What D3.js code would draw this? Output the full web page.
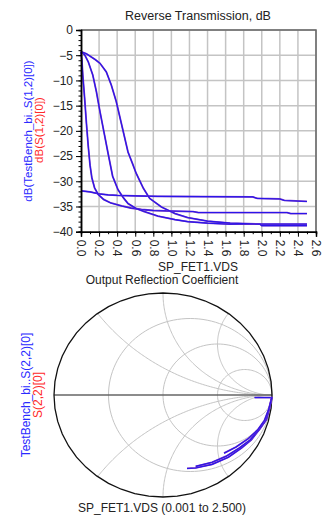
<!DOCTYPE html>
<html>
<head>
<meta charset="utf-8">
<script src="https://cdn.jsdelivr.net/npm/d3@7"></script>
<style>
  body { margin: 0; background: #fff; }
  svg { display: block; font-family: "Liberation Sans", Arial, sans-serif; }
</style>
</head>
<body>
<svg id="chart" width="323" height="516"></svg>
<script>
// Reverse transmission traces: [VDS, dB]
const s12TraceA = [[0, -4.3], [0.01, -6], [0.02, -9], [0.04, -13.5], [0.06, -18.5], [0.08, -23], [0.1, -26.8],
    [0.12, -29.3], [0.15, -31.3], [0.19, -32.6], [0.25, -33.6], [0.33, -34.3], [0.45, -34.9], [0.55, -35.3],
    [0.67, -35.6], [0.8, -35.8], [1.0, -35.9], [1.24, -36.0], [1.3, -36.2], [2.28, -36.2], [2.32, -36.4], [2.5, -36.4]];
const s12TraceB = [[0, -4.3], [0.04, -4.9], [0.08, -6.3], [0.13, -8.9], [0.17, -12.2], [0.21, -16.2], [0.26, -20.8],
    [0.3, -24.5], [0.35, -29], [0.41, -31.7], [0.47, -33.3], [0.52, -34.4], [0.61, -35.4], [0.7, -36.0],
    [0.85, -36.9], [1.04, -37.6], [1.18, -38.0], [1.4, -38.3], [1.65, -38.5], [2.0, -38.5], [2.5, -38.5]];
const s12TraceC = [[0, -4.3], [0.06, -4.7], [0.11, -5.3], [0.16, -5.9], [0.21, -6.6], [0.28, -8.3], [0.335, -10.9],
    [0.39, -14.2], [0.45, -18.8], [0.52, -24.2], [0.57, -26.5], [0.61, -28.4], [0.69, -31.4], [0.76, -33.4],
    [0.89, -35.1], [1.04, -36.4], [1.18, -37.2], [1.4, -37.9], [1.65, -38.3], [1.98, -38.5], [2.0, -38.8], [2.5, -38.8]];
const s12TraceD = [[0, -31.9], [0.1, -32.1], [0.2, -32.5], [0.3, -32.7], [0.4, -32.8], [0.6, -32.9], [0.85, -33.0],
    [1.9, -33.1], [1.95, -33.4], [2.2, -33.5], [2.25, -33.8], [2.5, -34.0]];

// Output reflection traces: [re, im]
const s22TraceA = [[0.999, -0.02], [0.98, -0.12], [0.95, -0.24], [0.89, -0.33], [0.81, -0.44], [0.72, -0.52],
    [0.6, -0.61], [0.45, -0.68], [0.3, -0.715], [0.22, -0.72]];
const s22TraceB = [[0.999, -0.02], [0.975, -0.13], [0.94, -0.25], [0.88, -0.34], [0.8, -0.44], [0.7, -0.52],
    [0.58, -0.6], [0.45, -0.66], [0.3, -0.7]];
const s22TraceC = [[0.999, -0.02], [0.97, -0.14], [0.93, -0.25], [0.87, -0.34], [0.78, -0.43], [0.67, -0.51],
    [0.56, -0.57]];
const s22TraceD = [[0.84, -0.025], [0.92, -0.025], [0.999, -0.025]];

const xTicks = d3.range(0, 2.61, 0.2);
const yTicks = d3.range(0, -40.1, -5);
const resistanceCircles = [1 / 3, 1, 3];
const reactanceArcs = [0.5, 1, 2, -0.5, -1, -2];

const BLUE = '#2a14ea';
const PURPLE = '#7a3cc6';
const GRID = '#c4c4c4';

const svg = d3.select('#chart');

function drawTitle(text, x, y, size = 12) {
    svg.append('text')
        .attr('x', x)
        .attr('y', y)
        .attr('text-anchor', 'middle')
        .attr('font-size', size)
        .attr('fill', '#222')
        .text(text);
}

function drawSideLabel(text, x, y, color, size) {
    svg.append('text')
        .attr('transform', `translate(${x},${y}) rotate(-90)`)
        .attr('text-anchor', 'middle')
        .attr('dominant-baseline', 'middle')
        .attr('font-size', size)
        .attr('fill', color)
        .text(text);
}

function drawTrace(layer, data, line) {
    // red trace lies under the blue one, mixing into purple
    layer.append('path')
        .datum(data)
        .attr('d', line)
        .attr('fill', 'none')
        .attr('stroke', PURPLE)
        .attr('stroke-width', 1.8);
    layer.append('path')
        .datum(data)
        .attr('d', line)
        .attr('fill', 'none')
        .attr('stroke', BLUE)
        .attr('stroke-width', 1.1);
}

// ---------- Reverse Transmission ----------
const x = d3.scaleLinear().domain([0, 2.6]).range([81, 316]);
const y = d3.scaleLinear().domain([0, -40]).range([30, 231.7]);

drawTitle('Reverse Transmission, dB', 198, 20, 12.5);

const grid = svg.append('g');
grid.selectAll('line.v')
    .data(xTicks.slice(1))
    .join('line')
    .attr('x1', d => x(d)).attr('x2', d => x(d))
    .attr('y1', y(0)).attr('y2', y(-40))
    .attr('stroke', GRID).attr('stroke-width', 1.5);
grid.selectAll('line.h')
    .data(yTicks.slice(0, -1))
    .join('line')
    .attr('x1', x(0)).attr('x2', x(2.6))
    .attr('y1', d => y(d)).attr('y2', d => y(d))
    .attr('stroke', GRID).attr('stroke-width', 1.5);

// top and right frame
svg.append('path')
    .attr('d', `M${x(0)},${y(0)}H${x(2.6)}V${y(-40)}`)
    .attr('fill', 'none')
    .attr('stroke', '#666')
    .attr('stroke-width', 1.5);

const lineDb = d3.line().x(d => x(d[0])).y(d => y(d[1]));
const traces = svg.append('g');
[s12TraceD, s12TraceA, s12TraceB, s12TraceC].forEach(t => drawTrace(traces, t, lineDb));

// axes
const yAxis = d3.axisLeft(y).tickValues(yTicks).tickSize(5).tickPadding(3).tickFormat(d3.format('d'));
const yMinor = d3.axisLeft(y).tickValues(d3.range(0, -40.1, -1)).tickSize(2.5).tickFormat('');
const xAxis = d3.axisBottom(x).tickValues(xTicks).tickSize(5).tickFormat(d3.format('.1f'));
const xMinor = d3.axisBottom(x).tickValues(d3.range(0, 2.61, 0.1)).tickSize(2.5).tickFormat('');

function styleAxis(g) {
    g.select('.domain').attr('stroke', '#000').attr('stroke-width', 1.5);
    g.selectAll('.tick line').attr('stroke', '#000');
    g.selectAll('.tick text').attr('font-size', 12).attr('font-family', '"Liberation Sans", Arial, sans-serif').attr('fill', '#222');
}

svg.append('g').attr('transform', `translate(${x(0)},0)`).call(yMinor).call(styleAxis);
svg.append('g').attr('transform', `translate(${x(0)},0)`).call(yAxis).call(styleAxis);
svg.append('g').attr('transform', `translate(0,${y(-40)})`).call(xMinor).call(styleAxis);
const xg = svg.append('g').attr('transform', `translate(0,${y(-40)})`).call(xAxis).call(styleAxis);
xg.selectAll('.tick text')
    .attr('transform', 'rotate(90)')
    .attr('x', 8)
    .attr('y', 0)
    .attr('dy', '0.35em')
    .attr('text-anchor', 'start');

drawTitle('SP_FET1.VDS', 198, 271);
drawSideLabel('dB(TestBench_bi..S(1,2)[0])', 29, 131, '#2a2aff', 11.5);
drawSideLabel('dB(S(1,2)[0])', 40, 130, '#ff2a2a', 11.5);

// ---------- Output Reflection Coefficient ----------
const gx = d3.scaleLinear().domain([-1, 1]).range([54, 272]);
const gy = d3.scaleLinear().domain([1, -1]).range([293, 497]);
const lineG = d3.line().x(d => gx(d[0])).y(d => gy(d[1]));

drawTitle('Output Reflection Coefficient', 162, 284);

const smith = svg.append('g');

function circlePoints(cx, cy, r, a0, a1, n) {
    return d3.range(n + 1).map(i => {
        const a = a0 + (a1 - a0) * i / n;
        return [cx + r * Math.cos(a), cy + r * Math.sin(a)];
    });
}

resistanceCircles.forEach(r => {
    const pts = circlePoints(r / (r + 1), 0, 1 / (r + 1), 0, 2 * Math.PI, 120);
    smith.append('path').datum(pts).attr('d', lineG)
        .attr('fill', 'none').attr('stroke', GRID).attr('stroke-width', 1);
});

reactanceArcs.forEach(xv => {
    const ax = Math.abs(xv);
    const ex = (ax * ax - 1) / (ax * ax + 1);
    const ey = 2 * ax / (ax * ax + 1);
    let a0 = Math.atan2(ey - 1 / ax, ex - 1);
    if (a0 < 0) a0 += 2 * Math.PI;
    const pts = circlePoints(1, 1 / ax, 1 / ax, a0, 1.5 * Math.PI, 120)
        .map(p => [p[0], xv < 0 ? -p[1] : p[1]]);
    smith.append('path').datum(pts).attr('d', lineG)
        .attr('fill', 'none').attr('stroke', GRID).attr('stroke-width', 1);
});

smith.append('path').datum([[-1, 0], [1, 0]]).attr('d', lineG)
    .attr('stroke', '#666').attr('stroke-width', 1.3);

smith.append('path')
    .datum(circlePoints(0, 0, 1, 0, 2 * Math.PI, 48))
    .attr('d', lineG)
    .attr('fill', 'none')
    .attr('stroke', '#111')
    .attr('stroke-width', 1.3);

[s22TraceD, s22TraceA, s22TraceB, s22TraceC].forEach(t => drawTrace(smith, t, lineG));

drawTitle('SP_FET1.VDS (0.001 to 2.500)', 162, 512);
drawSideLabel('TestBench_bi..S(2,2)[0]', 27, 395, '#2a2aff', 12);
drawSideLabel('S(2,2)[0]', 39, 395, '#ff2a2a', 12);
</script>
</body>
</html>
